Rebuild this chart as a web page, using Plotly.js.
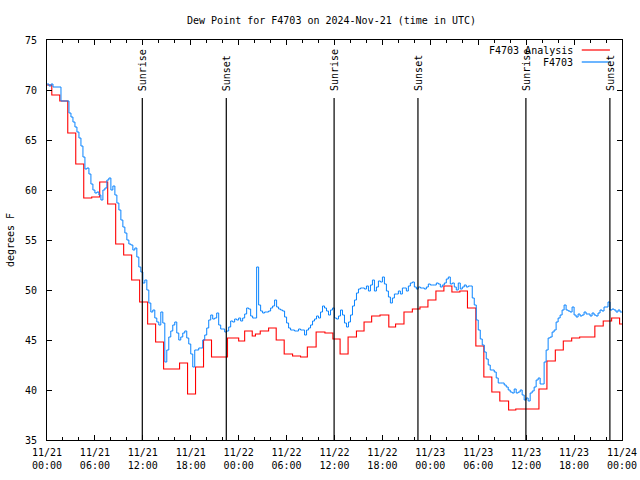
<!DOCTYPE html>
<html>
<head>
<meta charset="utf-8">
<script src="https://cdn.plot.ly/plotly-3.0.1.min.js"></script>
<style>html,body{margin:0;padding:0;background:#fff}#chart{width:640px;height:480px}</style>
</head>
<body>
<div id="chart"></div>
<script>
// ---- data ----
var startTime = '2024-11-21 00:00';
var endTime = '2024-11-24 00:00';

// Observed dew point (F4703), one reading every 15 minutes from startTime
var obsStepMinutes = 15;
var obsValues = [
  70.6,70.4,70.6,70.3,70.3,70.3,70.3,68.9,68.9,68.9,68.9,67.7,
  67.3,66.8,66.3,65.8,65.2,64.4,63.3,62.1,62.2,61.6,60.6,60.0,
  59.7,59.8,59.5,59.0,60.0,60.2,61.0,61.2,60.0,60.4,59.5,58.7,
  58.0,57.0,56.3,55.7,55.0,54.6,54.5,54.0,54.2,53.3,52.3,51.8,
  50.7,51.0,50.0,48.7,47.8,48.0,47.2,46.8,46.5,47.8,46.7,42.8,
  44.0,45.3,45.9,46.5,46.8,45.7,45.0,45.3,45.7,45.9,45.2,44.6,
  43.6,42.3,44.0,44.0,44.2,44.2,45.0,45.5,46.2,47.0,47.5,47.1,
  47.2,47.7,46.5,46.1,46.1,45.8,45.9,46.3,46.9,46.8,47.1,47.0,
  47.2,46.9,47.2,47.6,48.2,48.1,47.4,47.2,47.2,52.3,48.5,47.9,
  47.7,47.8,47.8,47.9,48.2,48.4,49.0,48.3,48.1,48.0,47.9,47.3,
  46.7,46.2,46.0,46.0,45.9,45.9,46.1,46.0,46.0,45.5,46.0,46.2,
  46.5,46.9,47.1,47.4,47.2,47.8,48.4,48.2,47.9,47.5,48.0,48.2,
  47.2,47.1,47.4,48.0,47.5,46.7,46.3,46.8,47.5,48.4,49.0,49.7,
  50.1,50.2,50.2,50.1,50.4,49.9,50.5,51.0,49.9,50.3,50.9,50.8,
  51.3,50.6,49.9,49.3,48.7,49.2,49.6,49.6,49.9,49.6,50.2,50.2,
  49.9,50.4,50.7,50.8,50.3,50.1,50.3,50.2,50.2,50.1,50.3,50.6,
  50.5,50.5,50.5,50.7,50.6,50.3,50.5,50.7,51.1,51.3,50.6,50.7,
  50.3,50.0,50.7,50.1,50.3,50.5,50.3,50.4,50.4,49.2,48.5,47.0,
  46.0,45.1,44.5,43.8,43.1,42.5,42.0,42.0,41.8,41.2,40.7,40.7,
  40.7,40.5,40.3,40.0,39.8,39.7,40.1,39.7,39.8,40.0,39.5,39.0,
  39.2,38.9,39.7,39.9,40.3,41.0,41.2,40.6,40.6,42.8,44.0,45.2,
  45.3,45.8,46.0,46.8,47.2,47.5,48.0,48.5,48.0,47.9,47.8,48.3,
  47.5,47.3,47.6,47.4,47.5,47.8,47.6,47.6,47.4,47.7,47.5,47.4,
  47.7,48.0,47.9,48.3,48.3,48.8,48.0,48.1,48.0,47.8,48.0,47.8,
  47.8
];

// Analysis dew point: step start (hours after startTime) and value
var anaHours = [0,0.6,1.6,2.6,3.6,4.6,5.6,6.6,7.6,8.6,9.6,10.6,11.6,12.6,13.6,14.6,16.6,17.6,18.6,19.6,
  20.6,22.6,24.0,24.75,25.7,26.1,26.7,27.75,28.7,29.7,30.75,31.75,32.6,33.7,34.8,35.8,36.7,37.7,38.75,39.7,
  40.65,41.7,42.8,43.65,44.7,45.75,46.7,47.7,48.7,49.7,50.7,51.7,52.65,53.7,54.7,55.7,56.7,57.8,58.7,61.6,
  62.6,63.65,64.65,65.7,66.7,67.7,68.6,69.65,70.7,71.7,72];
var anaValues = [70.5,69.5,68.9,65.7,62.6,59.2,59.3,60.8,58.6,54.6,53.5,51.0,48.8,46.6,44.8,42.1,42.7,39.6,42.3,45.0,
  43.3,45.2,44.9,45.9,45.4,45.6,45.9,46.2,45.0,43.6,43.4,43.3,44.3,45.8,45.7,45.1,43.6,45.3,45.9,46.8,
  47.4,47.5,46.3,46.6,47.8,48.1,48.3,49.0,49.9,50.4,49.8,49.9,48.2,44.4,41.3,39.8,38.9,38.0,38.1,40.1,
  42.9,44.0,44.9,45.2,45.3,45.3,46.4,46.9,47.2,46.6,46.6];

var sunriseTimes = ['2024-11-21 11:56','2024-11-22 11:57','2024-11-23 11:58'];
var sunsetTimes  = ['2024-11-21 22:27','2024-11-22 22:27','2024-11-23 22:29'];

var seriesNames = ['F4703 Analysis','F4703'];
var seriesColors = ['#ff0000','#0a84ff'];

// ---- helpers ----
var baseMs = Date.UTC(2024,10,21,0,0,0);
function fmt(ms){ return new Date(ms).toISOString().replace('T',' ').slice(0,19); }
var obsX = obsValues.map(function(v,i){ return fmt(baseMs + i*obsStepMinutes*60000); });
var anaX = anaHours.map(function(h){ return fmt(baseMs + Math.round(h*3600000)); });

var evX = [], evY = [];
sunriseTimes.concat(sunsetTimes).forEach(function(t){ evX.push(t,t,null); evY.push(35,69.2,null); });

var FONT = 'DejaVu Sans Mono';
var traces = [
  {x: anaX, y: anaValues, type:'scatter', mode:'lines', line:{shape:'hv', color:seriesColors[0], width:1.1}, name:seriesNames[0], showlegend:false, hoverinfo:'skip'},
  {x: obsX, y: obsValues, type:'scatter', mode:'lines', line:{shape:'hv', color:seriesColors[1], width:1.0}, name:seriesNames[1], showlegend:false, hoverinfo:'skip'},
  {x: evX, y: evY, type:'scatter', mode:'lines', line:{color:'#000', width:1.2}, showlegend:false, hoverinfo:'skip'}
];

var annotations = [];
sunriseTimes.forEach(function(t){ annotations.push({x:t, y:69.7, xref:'x', yref:'y', text:'Sunrise', textangle:-90, showarrow:false, xanchor:'center', yanchor:'bottom', font:{family:FONT,size:10,color:'#000'}}); });
sunsetTimes.forEach(function(t){ annotations.push({x:t, y:69.7, xref:'x', yref:'y', text:'Sunset', textangle:-90, showarrow:false, xanchor:'center', yanchor:'bottom', font:{family:FONT,size:10,color:'#000'}}); });
// legend (text left of sample line, gnuplot style)
annotations.push({x:0.918, y:0.975, xref:'paper', yref:'paper', text:seriesNames[0], showarrow:false, xanchor:'right', yanchor:'middle', font:{family:FONT,size:10,color:'#000'}});
annotations.push({x:0.918, y:0.945, xref:'paper', yref:'paper', text:seriesNames[1], showarrow:false, xanchor:'right', yanchor:'middle', font:{family:FONT,size:10,color:'#000'}});

var shapes = [
  {type:'line', xref:'paper', yref:'paper', x0:0.930, x1:0.979, y0:0.975, y1:0.975, line:{color:seriesColors[0], width:1.2}},
  {type:'line', xref:'paper', yref:'paper', x0:0.930, x1:0.979, y0:0.945, y1:0.945, line:{color:seriesColors[1], width:1.2}}
];

var layout = {
  width:640, height:480,
  margin:{l:47, r:18, t:40, b:40},
  paper_bgcolor:'#fff', plot_bgcolor:'#fff',
  font:{family:FONT, size:10, color:'#000'},
  title:{text:'Dew Point for F4703 on 2024-Nov-21 (time in UTC)', font:{family:FONT,size:10,color:'#000'}, xref:'container', x:0.518, xanchor:'center', yref:'container', y:0.958, yanchor:'middle'},
  xaxis:{type:'date', range:[startTime, endTime], showgrid:false, zeroline:false, showline:true, linecolor:'#000', linewidth:1, mirror:'allticks',
    ticks:'inside', ticklen:5, tickcolor:'#000', tickwidth:1, tick0:startTime, dtick:6*3600000, tickformat:'%m/%d<br>%H:%M', ticklabelstandoff:3,
    minor:{dtick:2*3600000, ticks:'inside', ticklen:3, tickcolor:'#000', showgrid:false},
    tickfont:{family:FONT,size:10,color:'#000'}, fixedrange:true},
  yaxis:{range:[35,75], dtick:5, showgrid:false, zeroline:false, showline:true, linecolor:'#000', linewidth:1, mirror:'allticks',
    ticks:'inside', ticklen:5, tickcolor:'#000', tickwidth:1, ticklabelstandoff:7,
    tickfont:{family:FONT,size:10,color:'#000'},
    title:{text:'degrees F', font:{family:FONT,size:10,color:'#000'}, standoff:8}, fixedrange:true},
  annotations: annotations,
  shapes: shapes,
  showlegend:false
};

Plotly.newPlot('chart', traces, layout, {staticPlot:true, displayModeBar:false});
</script>
</body>
</html>
